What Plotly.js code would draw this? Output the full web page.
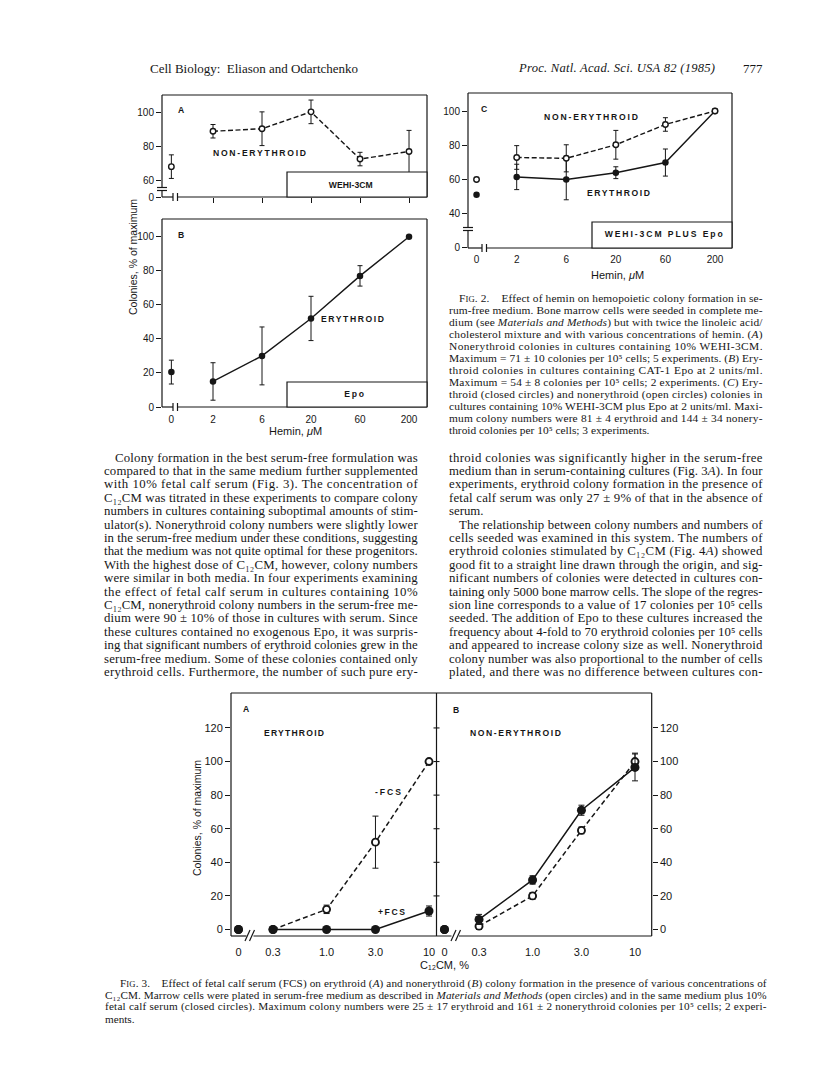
<!DOCTYPE html>
<html><head><meta charset="utf-8">
<script src="https://cdn.plot.ly/plotly-3.0.1.min.js"></script>
<style>html,body{margin:0;padding:0;background:#fff;}#page{width:816px;height:1073px;}</style>
</head><body><div id="page"></div>
<script>
// ---------------- data ----------------
const hemin = ['0', '2', '6', '20', '60', '200'];           // Hemin, uM
const fig2A_nonEry    = [68, 89, 90.5, 100.5, 72.5, 77];     // open circles, WEHI-3CM
const fig2A_nonEryErr = [7, 4, 10, 7, 4, 12.5];
const fig2B_ery       = [20.5, 15, 30, 52, 77, 100];         // closed circles, Epo
const fig2B_eryErr    = [7, 11, 17, 13, 6, 0];
const fig2C_nonEry    = [60, 73, 72.5, 80.5, 92.5, 100.5];   // open circles
const fig2C_nonEryErr = [0, 7, 8, 8.5, 4, 0];
const fig2C_ery       = [51, 61.5, 60, 64, 70, 100.5];       // closed circles
const fig2C_eryErr    = [0, 7.5, 12, 3.5, 8, 0];
const fig2A_yTickVals = [50, 60, 80, 100];  const fig2A_yTickText = ['0', '60', '80', '100'];
const fig2B_yTickVals = [0, 20, 40, 60, 80, 100];
const fig2C_yTickVals = [20, 40, 60, 80, 100]; const fig2C_yTickText = ['0', '40', '60', '80', '100'];

const c12cm       = [0, 0.3, 1.0, 3.0, 10];                  // C12CM, %
const c12cmLabels = ['0', '0.3', '1.0', '3.0', '10'];
const fig3A_noFCS    = [0, 0, 12, 52, 100];                   // -FCS, open
const fig3A_noFCSErr = [0, 0, 2.5, 15.5, 0];
const fig3A_FCS      = [0, 0, 0, 0, 11];                      // +FCS, closed
const fig3A_FCSErr   = [0, 0, 0, 0, 3];
const fig3B_noFCS    = [0, 2, 20, 59, 100];
const fig3B_noFCSErr = [0, 2, 2, 2, 5];
const fig3B_FCS      = [0, 6, 29.5, 71, 96.5];
const fig3B_FCSErr   = [0, 3, 2.5, 3, 8];
const fig3_yTickVals = [0, 20, 40, 60, 80, 100, 120];

// ---------------- page text ----------------
const C12 = 'C\u2081\u2082CM';
const header = ['Cell Biology:\u00a0 Eliason and Odartchenko', 'Proc. Natl. Acad. Sci. USA 82 (1985)', '777'];
const leftCol = [
 'Colony formation in the best serum-free formulation was',
 'compared to that in the same medium further supplemented',
 'with 10% fetal calf serum (Fig. 3). The concentration of',
 C12 + ' was titrated in these experiments to compare colony',
 'numbers in cultures containing suboptimal amounts of stim-',
 'ulator(s). Nonerythroid colony numbers were slightly lower',
 'in the serum-free medium under these conditions, suggesting',
 'that the medium was not quite optimal for these progenitors.',
 'With the highest dose of ' + C12 + ', however, colony numbers',
 'were similar in both media. In four experiments examining',
 'the effect of fetal calf serum in cultures containing 10%',
 C12 + ', nonerythroid colony numbers in the serum-free me-',
 'dium were 90 ± 10% of those in cultures with serum. Since',
 'these cultures contained no exogenous Epo, it was surpris-',
 'ing that significant numbers of erythroid colonies grew in the',
 'serum-free medium. Some of these colonies contained only',
 'erythroid cells. Furthermore, the number of such pure ery-'];
const rightCol = [
 'throid colonies was significantly higher in the serum-free',
 'medium than in serum-containing cultures (Fig. 3<i>A</i>). In four',
 'experiments, erythroid colony formation in the presence of',
 'fetal calf serum was only 27 ± 9% of that in the absence of',
 'serum.',
 'The relationship between colony numbers and numbers of',
 'cells seeded was examined in this system. The numbers of',
 'erythroid colonies stimulated by ' + C12 + ' (Fig. 4<i>A</i>) showed',
 'good fit to a straight line drawn through the origin, and sig-',
 'nificant numbers of colonies were detected in cultures con-',
 'taining only 5000 bone marrow cells. The slope of the regres-',
 'sion line corresponds to a value of 17 colonies per 10\u2075 cells',
 'seeded. The addition of Epo to these cultures increased the',
 'frequency about 4-fold to 70 erythroid colonies per 10\u2075 cells',
 'and appeared to increase colony size as well. Nonerythroid',
 'colony number was also proportional to the number of cells',
 'plated, and there was no difference between cultures con-'];
const caption2 = [
 'F<span style="font-size:8.6px">IG</span>. 2.\u00a0\u00a0\u00a0 Effect of hemin on hemopoietic colony formation in se-',
 'rum-free medium. Bone marrow cells were seeded in complete me-',
 'dium (see <i>Materials and Methods</i>) but with twice the linoleic acid/',
 'cholesterol mixture and with various concentrations of hemin. (<i>A</i>)',
 'Nonerythroid colonies in cultures containing 10% WEHI-3CM.',
 'Maximum = 71 ± 10 colonies per 10\u2075 cells; 5 experiments. (<i>B</i>) Ery-',
 'throid colonies in cultures containing CAT-1 Epo at 2 units/ml.',
 'Maximum = 54 ± 8 colonies per 10\u2075 cells; 2 experiments. (<i>C</i>) Ery-',
 'throid (closed circles) and nonerythroid (open circles) colonies in',
 'cultures containing 10% WEHI-3CM plus Epo at 2 units/ml. Maxi-',
 'mum colony numbers were 81 ± 4 erythroid and 144 ± 34 nonery-',
 'throid colonies per 10\u2075 cells; 3 experiments.'];
const caption3 = [
 'F<span style="font-size:8.6px">IG</span>. 3.\u00a0\u00a0\u00a0 Effect of fetal calf serum (FCS) on erythroid (<i>A</i>) and nonerythroid (<i>B</i>) colony formation in the presence of various concentrations of',
 C12 + '. Marrow cells were plated in serum-free medium as described in <i>Materials and Methods</i> (open circles) and in the same medium plus 10%',
 'fetal calf serum (closed circles). Maximum colony numbers were 25 ± 17 erythroid and 161 ± 2 nonerythroid colonies per 10\u2075 cells; 2 experi-',
 'ments.'];

// ---------------- style / layout helpers ----------------
const W = 816, H = 1073;
const INK = '#161616';
const SERIF = 'Liberation Serif, Times New Roman, serif';
const SANS = 'Liberation Sans, Arial, sans-serif';
const dX = (a, b) => [a / W, b / W];
const dY = (top, bot) => [1 - bot / H, 1 - top / H];
const hemX = zero => hemin.map((h, i) => i === 0 ? zero : i);
const ZERO_AB = 0.15, ZERO_C = 0.19, ZERO_3 = 0.138;
const c12X = c12cm.map(v => v > 0 ? v : ZERO_3);

function series(xs, ys, errs, xa, ya, open, dashed, st) {
  const err = errs.map(e => e > 0 ? e : NaN);
  const marker = open
    ? {symbol: 'circle', size: st.open, color: '#fff', line: {color: INK, width: st.olw}}
    : {symbol: 'circle', size: st.closed, color: INK, line: {color: INK, width: 0}};
  const eb = arr => ({type: 'data', symmetric: true, array: arr, color: INK, thickness: 1, width: st.cap});
  return [
    {x: xs.slice(1), y: ys.slice(1), xaxis: xa, yaxis: ya, mode: 'lines+markers', cliponaxis: false,
     line: {color: INK, width: st.lw, dash: dashed ? st.dash : 'solid'}, marker: marker, error_y: eb(err.slice(1)), hoverinfo: 'skip'},
    {x: [xs[0]], y: [ys[0]], xaxis: xa, yaxis: ya, mode: 'markers', cliponaxis: false,
     marker: marker, error_y: eb([err[0]]), hoverinfo: 'skip'}
  ];
}
const st2 = {open: 5.5, olw: 1.4, closed: 6.5, cap: 2.5, lw: 1.4, dash: '5px,2.5px'};
const st3 = {open: 7, olw: 1.9, closed: 9, cap: 3, lw: 1.5, dash: '5px,3px'};

const data = [].concat(
  series(hemX(ZERO_AB), fig2A_nonEry, fig2A_nonEryErr, 'x', 'y', true, true, st2),
  series(hemX(ZERO_AB), fig2B_ery, fig2B_eryErr, 'x2', 'y2', false, false, st2),
  series(hemX(ZERO_C), fig2C_ery, fig2C_eryErr, 'x3', 'y3', false, false, st2),
  series(hemX(ZERO_C), fig2C_nonEry, fig2C_nonEryErr, 'x3', 'y3', true, true, st2),
  series(c12X, fig3A_noFCS, fig3A_noFCSErr, 'x4', 'y4', true, true, st3),
  series(c12X, fig3A_FCS, fig3A_FCSErr, 'x4', 'y4', false, false, st3),
  series(c12X, fig3B_noFCS, fig3B_noFCSErr, 'x5', 'y5', true, true, st3),
  series(c12X, fig3B_FCS, fig3B_FCSErr, 'x5', 'y5', false, false, st3)
);

const tf10 = {family: SANS, size: 10, color: INK};
const tf11 = {family: SANS, size: 11, color: INK};
const ax = o => Object.assign({showgrid: false, zeroline: false, showline: false, fixedrange: true,
  ticks: 'outside', ticklen: 5, tickwidth: 1, tickcolor: INK, tickfont: tf10}, o);
const NOTICK = 'rgba(0,0,0,0)';

const layout = {
  width: W, height: H, margin: {l: 0, r: 0, t: 0, b: 0}, showlegend: false, hovermode: false,
  paper_bgcolor: '#fff', plot_bgcolor: 'rgba(0,0,0,0)',
  xaxis:  ax({domain: dX(162, 427), range: [-0.041, 5.367], anchor: 'y',
              tickvals: hemX(ZERO_AB).slice(1), ticktext: hemin.slice(1), showticklabels: false}),
  yaxis:  ax({domain: dY(95, 197), range: [50, 110.5], anchor: 'x', tickvals: fig2A_yTickVals, ticktext: fig2A_yTickText}),
  xaxis2: ax({domain: dX(162, 427), range: [-0.041, 5.367], anchor: 'y2',
              tickvals: hemX(ZERO_AB), ticktext: hemin, tickcolor: NOTICK, ticklen: 3}),
  yaxis2: ax({domain: dY(219, 407), range: [0, 110.4], anchor: 'x2', tickvals: fig2B_yTickVals}),
  xaxis3: ax({domain: dX(468, 732), range: [0.018, 5.343], anchor: 'y3',
              tickvals: hemX(ZERO_C), ticktext: hemin, tickcolor: NOTICK, ticklen: 2}),
  yaxis3: ax({domain: dY(93, 248), range: [19.5, 111.1], anchor: 'x3', tickvals: fig2C_yTickVals, ticktext: fig2C_yTickText}),
  xaxis4: ax({type: 'log', domain: dX(231, 436.5), range: [-0.933, 1.073], anchor: 'y4',
              tickvals: c12X, ticktext: c12cmLabels, tickcolor: NOTICK, ticklen: 6, tickfont: tf11}),
  yaxis4: ax({domain: dY(693, 936), range: [-3.87, 140.8], anchor: 'x4', tickvals: fig3_yTickVals, tickfont: tf11}),
  xaxis5: ax({type: 'log', domain: dX(436.5, 651.7), range: [-0.938, 1.163], anchor: 'y5',
              tickvals: c12X, ticktext: c12cmLabels, tickcolor: NOTICK, ticklen: 6, tickfont: tf11}),
  yaxis5: ax({domain: dY(693, 936), range: [-3.87, 140.8], anchor: 'x5', side: 'right', tickvals: fig3_yTickVals, tickfont: tf11}),
  shapes: [], annotations: []
};

// frame lines (page pixels)
const S = layout.shapes;
function L(x0, y0, x1, y1, w) {
  S.push({type: 'line', xref: 'paper', yref: 'paper', x0: x0 / W, y0: 1 - y0 / H, x1: x1 / W, y1: 1 - y1 / H,
          line: {color: INK, width: w || 1.2}, layer: 'above'});
}
function R(x0, y0, x1, y1) {
  S.push({type: 'rect', xref: 'paper', yref: 'paper', x0: x0 / W, y0: 1 - y1 / H, x1: x1 / W, y1: 1 - y0 / H,
          line: {color: INK, width: 1.2}, fillcolor: '#fff', layer: 'above'});
}
// Fig 2A
L(162, 95, 427, 95); L(427, 95, 427, 197); L(162, 95, 162, 187);
L(157, 187.5, 167, 187.5); L(157, 190.5, 167, 190.5); L(162, 190.5, 162, 197);
L(162, 197, 173, 197); L(173, 193, 173, 201); L(177.5, 193, 177.5, 201); L(177.5, 197, 427, 197);
R(287, 172, 427, 197);
// Fig 2B
L(162, 219, 427, 219); L(427, 219, 427, 407); L(162, 219, 162, 407);
L(162, 407, 173, 407); L(173, 403, 173, 411); L(177.5, 403, 177.5, 411); L(177.5, 407, 427, 407);
R(287, 382, 427, 407);
// Fig 2C
L(468, 93, 732, 93); L(732, 93, 732, 248); L(468, 93, 468, 227);
L(463, 227.5, 473, 227.5); L(463, 230.5, 473, 230.5); L(468, 230.5, 468, 248);
L(468, 248, 482, 248); L(482, 244, 482, 252); L(486.5, 244, 486.5, 252); L(486.5, 248, 732, 248);
R(592, 222, 732, 248);
// Fig 3
L(231, 693, 651.7, 693); L(231, 693, 231, 936); L(651.7, 693, 651.7, 936); L(436.5, 693, 436.5, 936);
L(231, 936, 246.5, 936); L(253.5, 936, 451.5, 936); L(459, 936, 651.7, 936);
L(245, 941, 250, 930); L(249.5, 941, 254.5, 930); L(451, 941, 456, 930); L(455.5, 941, 460.5, 930);
fig3_yTickVals.slice(1).forEach(v => S.push({type: 'line', xref: 'paper', yref: 'y4', x0: 433.5 / W, x1: 439.5 / W,
  y0: v, y1: v, line: {color: INK, width: 1.1}, layer: 'above'}));

// annotations
const fit = [];
function T(text, x, y, o) {
  o = o || {};
  const xa = o.xa || 'left';
  layout.annotations.push({xref: 'paper', yref: 'paper', x: x / W, y: 1 - y / H, xanchor: xa, yanchor: 'middle',
    align: xa === 'center' ? 'center' : 'left', text: text, showarrow: false, borderpad: 0, textangle: o.angle || 0,
    font: {family: o.fam || SERIF, size: o.size || 12, color: INK, weight: o.bold ? 700 : 400, style: o.italic ? 'italic' : 'normal'}});
  fit.push(o.w || 0);
}
// header
T(header[0], 148.5, 68, {size: 13, w: 208});
T(header[1], 517, 68, {size: 12.6, italic: true, w: 196});
T(header[2], 742, 68, {size: 13, w: 19.5});
// body text
leftCol.forEach((s, i) => { const x = i === 0 ? 114 : 103; T(s, x, 457.5 + i * 13.4, {size: 12.8, w: 416.7 - x}); });
rightCol.forEach((s, i) => { const x = i === 5 ? 458 : 448; T(s, x, 457.5 + i * 13.4, {size: 12.8, w: i === 4 ? 0 : 761.5 - x}); });
caption2.forEach((s, i) => { const x = i === 0 ? 458 : 448; T(s, x, 298.3 + i * 12.0, {size: 11.4, w: i === caption2.length - 1 ? 0 : 761.5 - x}); });
caption3.forEach((s, i) => { const x = i === 0 ? 119 : 104; T(s, x, 983.5 + i * 11.7, {size: 11.2, w: i === caption3.length - 1 ? 0 : 765.6 - x}); });
// chart labels
const lab = {fam: SANS, size: 8.6, bold: true};
T('A', 177, 110, lab); T('B', 177, 235, lab); T('C', 480, 109, lab);
T('NON-ERYTHROID', 212, 153, Object.assign({w: 93}, lab));
T('WEHI-3CM', 350, 185, Object.assign({xa: 'center', w: 44}, lab));
T('ERYTHROID', 320, 319, Object.assign({w: 63}, lab));
T('Epo', 354, 394.5, Object.assign({xa: 'center', w: 20}, lab));
T('NON-ERYTHROID', 543, 117, Object.assign({w: 94}, lab));
T('ERYTHROID', 586, 193, Object.assign({w: 63}, lab));
T('WEHI-3CM PLUS Epo', 663, 234, Object.assign({xa: 'center', w: 118}, lab));
T('A', 242, 709, lab); T('B', 452, 710, lab);
T('ERYTHROID', 263, 733, Object.assign({w: 60}, lab));
T('NON-ERYTHROID', 469, 733, Object.assign({w: 91}, lab));
T('-FCS', 374, 792, Object.assign({w: 26}, lab));
T('+FCS', 377, 912, Object.assign({w: 27}, lab));
// axis titles
T('Colonies, % of maximum', 133, 257, {fam: SANS, size: 10.5, angle: -90, xa: 'center'});
T('Hemin, <i>μ</i>M', 295, 431, {fam: SANS, size: 11, xa: 'center'});
T('Hemin, <i>μ</i>M', 617, 275, {fam: SANS, size: 11, xa: 'center'});
T('Colonies, % of maximum', 197, 818, {fam: SANS, size: 10.5, angle: -90, xa: 'center'});
T(C12 + ', %', 445, 965, {fam: SANS, size: 11, xa: 'center'});

const gd = document.getElementById('page');
Plotly.newPlot(gd, data, layout, {staticPlot: true, displayModeBar: false}).then(function () {
  gd.querySelectorAll('g.annotation').forEach(function (g) {
    const i = +g.getAttribute('data-index');
    const w = fit[i];
    if (!w) return;
    const t = g.querySelector('text.annotation-text');
    if (!t) return;
    t.setAttribute('textLength', w);
    t.setAttribute('lengthAdjust', 'spacing');
  });
});
</script>
</body></html>
